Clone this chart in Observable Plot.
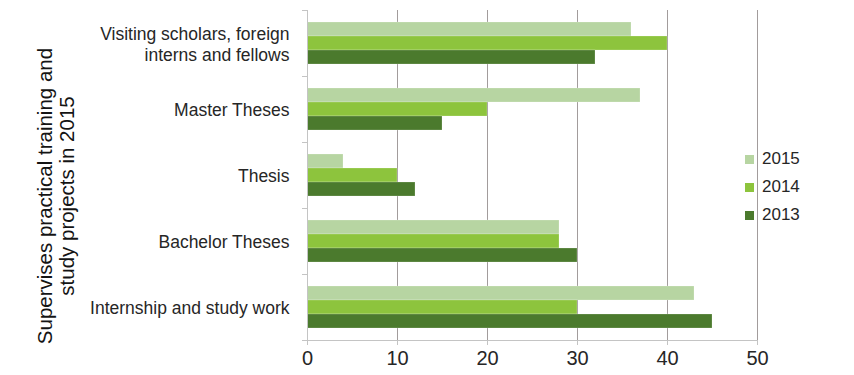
<!DOCTYPE html>
<html>
<head>
<meta charset="utf-8">
<script src="https://cdn.jsdelivr.net/npm/d3@7"></script>
<script src="https://cdn.jsdelivr.net/npm/@observablehq/plot@0.6"></script>
<style>
  html, body { margin: 0; padding: 0; background: #fff; }
  #chart { position: relative; width: 854px; height: 375px; font-family: "Liberation Sans", Arial, sans-serif; }
  #legend { position: absolute; left: 745px; top: 145px; }
  #ytitle {
    position: absolute; left: 56px; top: 196px;
    transform: translate(-50%, -50%) rotate(-90deg);
    white-space: nowrap; text-align: center;
    font-size: 20.5px; line-height: 22px; color: #141414;
  }
</style>
</head>
<body>
<div id="chart">
  <div id="ytitle">Supervises practical training and<br>study projects in 2015</div>
  <div id="legend"></div>
</div>
<script>
// Supervised training and study projects, counts per year
const categories = [
  "Visiting scholars, foreign\ninterns and fellows",
  "Master Theses",
  "Thesis",
  "Bachelor Theses",
  "Internship and study work"
];
const years = ["2015", "2014", "2013"];
const values2015 = [36, 37, 4, 28, 43];
const values2014 = [40, 20, 10, 28, 30];
const values2013 = [32, 15, 12, 30, 45];
const xTicks = [0, 10, 20, 30, 40, 50];
const yearColors = ["#b7d5a2", "#8dc43d", "#4b7a2d"];

const series = {"2015": values2015, "2014": values2014, "2013": values2013};
const rows = [];
for (const year of years) {
  categories.forEach((c, i) => rows.push({category: c, year, value: series[year][i]}));
}

const gridColor = "#a29c9c";
const axisColor = "#c4c4c4";
const font = "Liberation Sans, Arial, sans-serif";

const plot = Plot.plot({
  width: 854,
  height: 375,
  marginLeft: 307,
  marginRight: 97,
  marginTop: 10,
  marginBottom: 35,
  style: {fontFamily: font, background: "transparent"},
  x: {domain: [0, 50], ticks: xTicks, label: null},
  y: {domain: years, paddingInner: 0, paddingOuter: 0.75, axis: null},
  fy: {domain: categories, padding: 0, label: null},
  color: {domain: years, range: yearColors},
  marks: [
    Plot.gridX(xTicks.filter(d => d > 0), {stroke: gridColor, strokeOpacity: 1, strokeWidth: 1}),
    Plot.barX(rows, {
      fy: "category", y: "year", x: "value", fill: "year",
      stroke: "#ffffff", strokeOpacity: 0.35, strokeWidth: 0.6
    }),
    // left axis line; the bottom edge of the last category is the x axis line
    Plot.frame({anchor: "left", stroke: axisColor}),
    Plot.axisFy({
      anchor: "left", tickSize: 0, tickPadding: 18, label: null,
      fontSize: 17.5, fill: "#262626", lineHeight: 1.22
    }),
    Plot.axisX({
      anchor: "bottom", ticks: xTicks, tickSize: 5, tickPadding: 5,
      stroke: axisColor, fontSize: 20, fill: "#262626", label: null
    })
  ]
});
document.getElementById("chart").prepend(plot);

// Category boundary ticks on the left axis and the x axis baseline,
// positioned with the plot's own fy and x scales
const fy = plot.scale("fy");
const xs = plot.scale("x");
const band = d3.scaleBand().domain(fy.domain).range(fy.range).padding(0);
const bounds = fy.domain.map(d => band(d)).concat([fy.range[1]]);
const svg = d3.select(plot.tagName === "svg" ? plot : plot.querySelector("svg"));
const x0 = xs.apply(0);
const g = svg.append("g").attr("stroke", axisColor).attr("shape-rendering", "crispEdges");
g.selectAll("line.bt").data(bounds).join("line")
  .attr("x1", x0 - 5).attr("x2", x0)
  .attr("y1", d => d).attr("y2", d => d);
g.append("line")
  .attr("x1", x0).attr("x2", xs.apply(50))
  .attr("y1", fy.range[1]).attr("y2", fy.range[1]);

const legend = plot.legend("color", {
  columns: 1, swatchSize: 9,
  style: {fontSize: "17px", fontFamily: font, color: "#262626"}
});
document.getElementById("legend").append(legend);
// spread the legend rows
legend.querySelectorAll("svg").forEach(s => {
  const row = s.parentNode;
  row.style.height = "28px";
  row.style.lineHeight = "28px";
  row.style.paddingBottom = "0";
  s.style.marginRight = "8px";
});
</script>
</body>
</html>
